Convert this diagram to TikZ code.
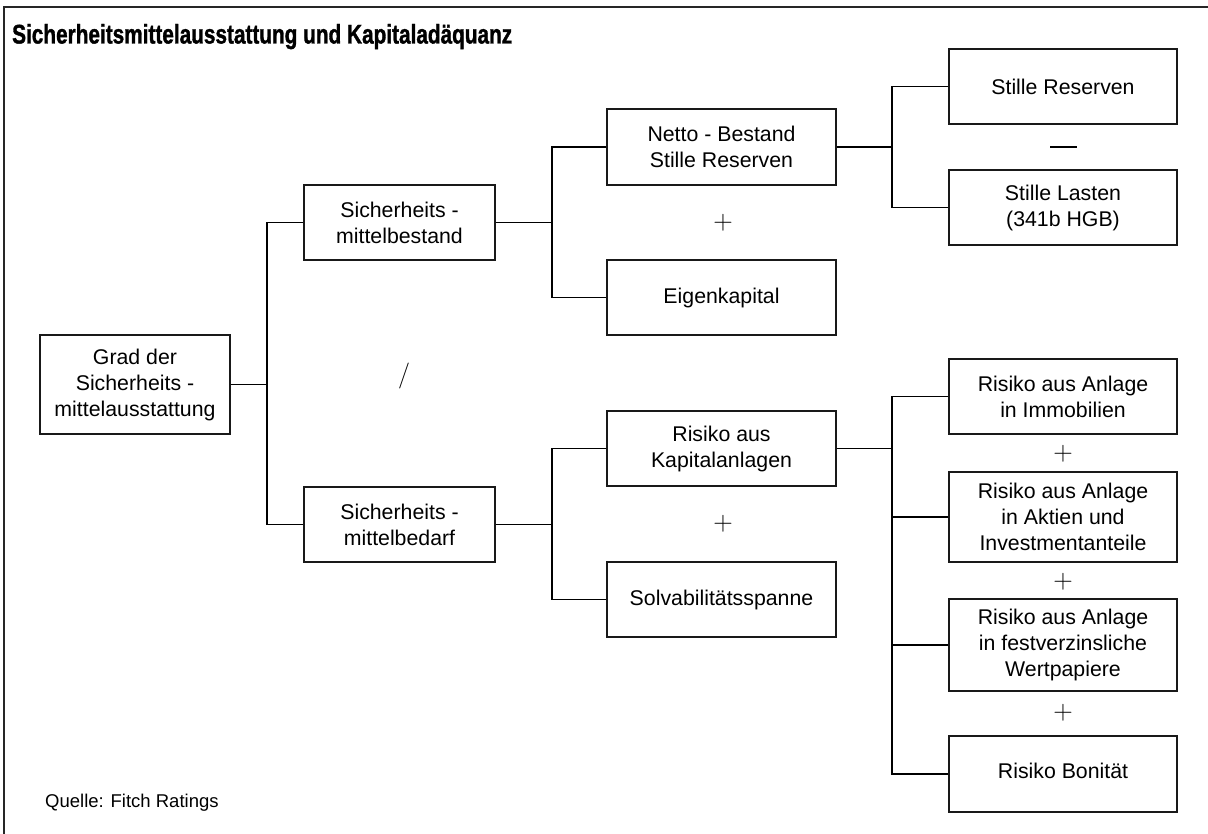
\documentclass[tikz,border=0pt]{standalone}
\usepackage{fontspec}
\setmainfont{Liberation Sans}
\newfontfamily\lmfont{Latin Modern Roman}
\newfontfamily\titlefont[FakeBold=1.5]{Liberation Sans Bold}
\usepackage{graphicx}
\begin{document}
\begin{tikzpicture}[x=1pt,y=-1pt,
  box/.style={draw=black!90,line width=1.4pt,align=center,inner sep=0pt,
    font=\fontsize{21.3}{26}\selectfont},
  conn/.style={draw=black,line width=1.2pt},
  stem/.style={draw=black,line width=1.8pt},
  opsign/.style={inner sep=0pt,font=\lmfont\fontsize{27}{27}\selectfont}]
\useasboundingbox (0,0) rectangle (1208,834);
% frame
\draw[line width=2pt,black!85] (4,834) -- (4,7.5) -- (1208,7.5);
% title
\node[anchor=base west,inner sep=0pt] (title) at (12,43.5)
  {\resizebox{500pt}{19.5pt}{\titlefont\fontsize{27}{30}\selectfont Sicherheitsmittelausstattung und Kapitaladäquanz}};
% boxes
\node[box,minimum width=190pt,minimum height=99pt] (grad) at (135,384.5) {Grad der\\Sicherheits -\\mittelausstattung};
\node[box,minimum width=191pt,minimum height=75pt] (best) at (399.5,222.5) {Sicherheits -\\mittelbestand};
\node[box,minimum width=191pt,minimum height=75pt] (bed) at (399.5,524.5) {Sicherheits -\\mittelbedarf};
\node[box,minimum width=229pt,minimum height=76pt] (netto) at (721.5,147) {Netto - Bestand\\Stille Reserven};
\node[box,minimum width=229pt,minimum height=75pt] (eigen) at (721.5,297.5) {Eigenkapital};
\node[box,minimum width=229pt,minimum height=75pt] (kap) at (721.5,448.5) {Risiko aus\\Kapitalanlagen};
\node[box,minimum width=229pt,minimum height=75pt] (solv) at (721.5,599.5) {Solvabilitätsspanne};
\node[box,minimum width=228pt,minimum height=75pt] (sr) at (1063,86.5) {Stille Reserven};
\node[box,minimum width=228pt,minimum height=75pt] (sl) at (1063,207.5) {Stille Lasten\\(341b HGB)};
\node[box,minimum width=228pt,minimum height=75pt] (imm) at (1063,396.5) {Risiko aus Anlage\\in Immobilien};
\node[box,minimum width=228pt,minimum height=90pt] (akt) at (1063,517) {Risiko aus Anlage\\in Aktien und\\Investmentanteile};
\node[box,minimum width=228pt,minimum height=92pt] (fest) at (1063,645) {Risiko aus Anlage\\in festverzinsliche\\Wertpapiere};
\node[box,minimum width=228pt,minimum height=76pt] (bon) at (1063,774) {\raisebox{6pt}{Risiko Bonität}};
% junctions
\coordinate (j1) at (267,384.5);
\coordinate (j2) at (552,222.5);
\coordinate (j3) at (552,524.5);
\coordinate (j4) at (892,147);
\coordinate (j5) at (892,448.5);
% connectors
\draw[stem] (grad.east) -- (j1);
\draw[conn] (best.west) -| (j1) |- (bed.west);
\draw[stem] (best.east) -- (j2);
\draw[conn] (netto.west) -| (j2) |- (eigen.west);
\draw[conn] (bed.east) -- (j3);
\draw[conn] (kap.west) -| (j3) |- (solv.west);
\draw[stem] (netto.east) -- (j4);
\draw[conn] (sr.west) -| (j4) |- (sl.west);
\draw[stem] (kap.east) -- (j5);
\draw[conn] (imm.west) -| (j5) |- (bon.west);
\draw[stem] (j5) -- (j5 |- akt.west);
\draw[conn] (akt.west) -- (akt.west -| j5);
\draw[conn] (fest.west) -- (fest.west -| j5);
% operators
\node[opsign] (p1) at (723,223) {+};
\node[opsign] (p2) at (723,524) {+};
\node[opsign] (p3) at (1063,454) {+};
\node[opsign] (p4) at (1063,582) {+};
\node[opsign] (p5) at (1063,713) {+};
\draw[line width=1.2pt] (1050,147) -- (1077,147);
\node[inner sep=0pt,font=\lmfont\fontsize{26}{26}\selectfont] (slash) at (404,376) {/};
% source
\node[anchor=base west,inner sep=0pt,font=\fontsize{18.5}{22}\selectfont] (src) at (45,807) {Quelle: Fitch Ratings};
\end{tikzpicture}
\end{document}
